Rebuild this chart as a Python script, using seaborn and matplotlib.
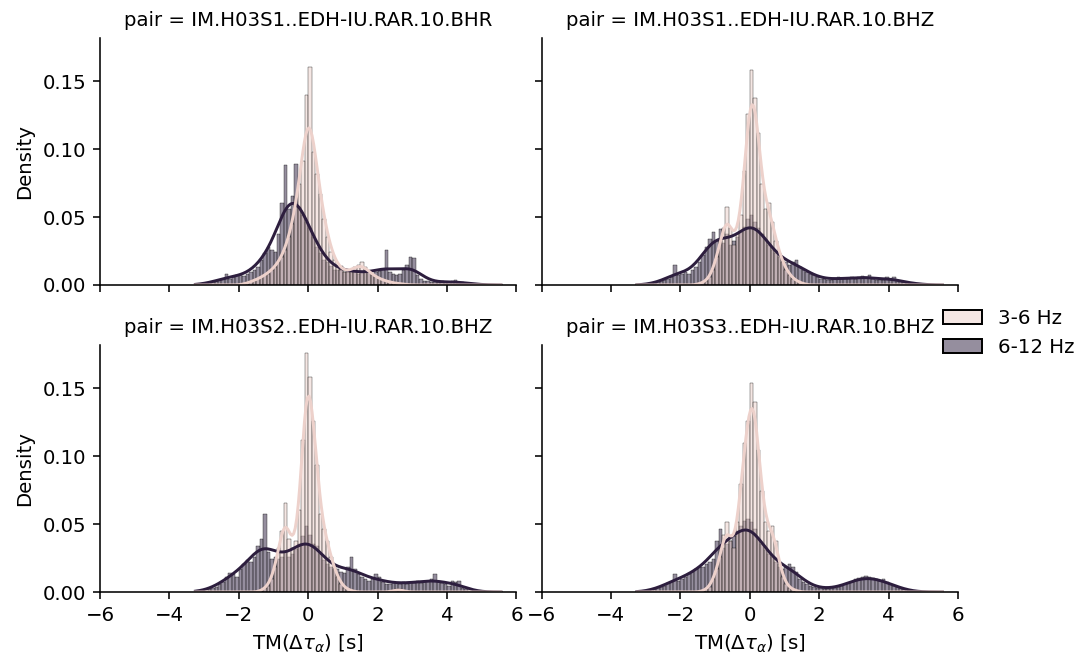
import numpy as np
import pandas as pd
import matplotlib
matplotlib.use("Agg")
import matplotlib.pyplot as plt
import seaborn as sns

# ---- categories ----
pairs = [
    "IM.H03S1..EDH-IU.RAR.10.BHR",
    "IM.H03S1..EDH-IU.RAR.10.BHZ",
    "IM.H03S2..EDH-IU.RAR.10.BHZ",
    "IM.H03S3..EDH-IU.RAR.10.BHZ",
]
bands = ["3-6 Hz", "6-12 Hz"]

# histogram bin edges (0.1 s bins from -3.3 to 5.6 s)
bin_edges = np.round(np.linspace(-3.3, 5.6, 90), 2)
bin_centers = np.round((bin_edges[:-1] + bin_edges[1:]) / 2, 3)

# ---- per-bin weights (density x 1000), bins from -3.25 s ----
s1_bhr_low = [
    0, 0, 0, 0, 0, 0, 0, 0, 0, 0,
    0, 0, 0, 0, 0, 2, 3, 3, 5, 6,
    8, 9, 12, 14, 18, 22, 28, 38, 48, 62,
    80, 98, 150, 172, 105, 88, 72, 52, 38, 26,
    20, 15, 12, 10, 10, 12, 14, 16, 18, 14,
    10, 8, 6, 5, 4, 3, 2, 2, 1, 1,
    1, 0, 0, 0, 0, 0, 0, 0, 0, 0,
    0, 0, 0, 0, 0, 0, 0, 0, 0, 0,
    0, 0, 0, 0, 0, 0, 0, 0, 0,
]
s1_bhr_high = [
    0, 0, 1, 1, 2, 2, 3, 4, 5, 9,
    5, 6, 8, 8, 7, 9, 10, 12, 14, 20,
    25, 30, 28, 26, 40, 65, 95, 60, 70, 96,
    62, 55, 50, 45, 38, 30, 25, 20, 18, 15,
    12, 12, 15, 10, 12, 10, 11, 9, 10, 11,
    10, 9, 10, 11, 12, 28, 10, 9, 8, 9,
    12, 16, 22, 21, 8, 5, 3, 3, 2, 2,
    2, 3, 2, 2, 3, 4, 2, 2, 1, 1,
    1, 1, 0, 0, 0, 0, 0, 0, 0,
]
s1_bhz_low = [
    0, 0, 0, 0, 0, 0, 0, 0, 0, 0,
    0, 0, 0, 0, 0, 0, 0, 0, 1, 2,
    3, 6, 12, 22, 35, 45, 62, 45, 32, 40,
    55, 90, 135, 170, 148, 120, 80, 60, 65, 50,
    35, 25, 18, 12, 8, 5, 3, 2, 1, 0,
    0, 0, 0, 0, 0, 0, 0, 0, 0, 0,
    0, 0, 0, 0, 0, 0, 0, 0, 0, 0,
    0, 0, 0, 0, 0, 0, 0, 0, 0, 0,
    0, 0, 0, 0, 0, 0, 0, 0, 0,
]
s1_bhz_high = [
    0, 0, 0, 0, 1, 2, 2, 3, 4, 5,
    6, 16, 8, 9, 10, 9, 12, 14, 18, 24,
    30, 36, 42, 35, 44, 33, 40, 32, 35, 38,
    42, 46, 52, 55, 50, 45, 40, 36, 32, 28,
    25, 22, 20, 18, 16, 18, 20, 14, 12, 10,
    9, 8, 6, 5, 5, 4, 4, 5, 6, 5,
    5, 5, 6, 5, 6, 7, 6, 8, 5, 4,
    4, 4, 6, 5, 6, 4, 3, 2, 2, 1,
    1, 1, 1, 0, 0, 0, 0, 0, 0,
]
s2_bhz_low = [
    0, 0, 0, 0, 0, 0, 0, 0, 0, 0,
    0, 0, 0, 0, 0, 0, 0, 0, 0, 1,
    3, 5, 10, 20, 35, 48, 70, 42, 35, 40,
    65, 120, 189, 170, 135, 100, 62, 50, 40, 28,
    18, 12, 6, 3, 2, 1, 0, 0, 0, 0,
    0, 0, 0, 0, 0, 0, 0, 1, 2, 2,
    1, 0, 0, 0, 0, 0, 0, 0, 0, 0,
    0, 0, 0, 0, 0, 0, 0, 0, 0, 0,
    0, 0, 0, 0, 0, 0, 0, 0, 0,
]
s2_bhz_high = [
    0, 0, 1, 1, 2, 3, 4, 6, 8, 12,
    15, 14, 12, 18, 22, 25, 24, 28, 36, 42,
    62, 32, 26, 28, 26, 28, 32, 28, 30, 34,
    38, 44, 52, 45, 38, 36, 30, 25, 22, 20,
    20, 18, 16, 15, 20, 28, 18, 14, 12, 10,
    9, 10, 14, 12, 8, 6, 6, 8, 7, 6,
    8, 6, 8, 7, 9, 7, 8, 9, 10, 14,
    8, 7, 6, 5, 9, 8, 9, 3, 2, 1,
    1, 0, 0, 0, 0, 0, 0, 0, 0,
]
s3_bhz_low = [
    0, 0, 0, 0, 0, 0, 0, 0, 0, 0,
    0, 0, 0, 0, 0, 0, 0, 0, 0, 1,
    2, 4, 10, 18, 28, 45, 55, 40, 35, 55,
    85, 118, 135, 165, 150, 112, 80, 55, 48, 52,
    40, 22, 12, 6, 3, 2, 1, 0, 0, 0,
    0, 0, 0, 0, 0, 0, 0, 0, 0, 0,
    0, 0, 0, 0, 0, 0, 0, 0, 0, 0,
    0, 0, 0, 0, 0, 0, 0, 0, 0, 0,
    0, 0, 0, 0, 0, 0, 0, 0, 0,
]
s3_bhz_high = [
    0, 0, 0, 1, 1, 2, 3, 4, 5, 7,
    8, 14, 9, 10, 12, 14, 16, 18, 20, 20,
    22, 24, 26, 40, 50, 35, 38, 40, 44, 48,
    52, 56, 58, 55, 50, 42, 38, 33, 30, 28,
    24, 20, 18, 20, 22, 20, 16, 10, 8, 6,
    5, 4, 3, 3, 2, 2, 3, 3, 4, 5,
    6, 7, 8, 10, 11, 12, 13, 12, 11, 10,
    9, 10, 8, 6, 5, 4, 3, 2, 1, 1,
    0, 0, 0, 0, 0, 0, 0, 0, 0,
]

series = [
    (pairs[0], bands[0], s1_bhr_low), (pairs[0], bands[1], s1_bhr_high),
    (pairs[1], bands[0], s1_bhz_low), (pairs[1], bands[1], s1_bhz_high),
    (pairs[2], bands[0], s2_bhz_low), (pairs[2], bands[1], s2_bhz_high),
    (pairs[3], bands[0], s3_bhz_low), (pairs[3], bands[1], s3_bhz_high),
]
frames = []
for pair, band, vals in series:
    frames.append(pd.DataFrame({"tm": bin_centers, "w": np.asarray(vals, float),
                                "band": band, "pair": pair}))
data = pd.concat(frames, ignore_index=True)

palette = sns.cubehelix_palette(2)

DPI = 142
g = sns.displot(
    data=data, x="tm", weights="w", hue="band", hue_order=bands,
    col="pair", col_order=pairs, col_wrap=2,
    stat="density", kde=True, bins=[float(b) for b in bin_edges],
    kde_kws={"bw_adjust": 0.42},
    palette=palette, height=2.0, aspect=1.5,
)
g.set_axis_labels(r"TM($\Delta\tau_\alpha$) [s]", "Density")
g.set(xlim=(-6, 6), xticks=[-6, -4, -2, 0, 2, 4, 6],
      ylim=(0, 0.182), yticks=[0.0, 0.05, 0.10, 0.15])
for ax in g.axes.flat:
    ax.yaxis.set_major_formatter(matplotlib.ticker.FormatStrFormatter("%.2f"))
g._legend.set_title("")

fig = g.figure
fig.set_size_inches(1092 / DPI, 657 / DPI)
fig.subplots_adjust(left=100 / 1092, right=958 / 1092,
                    bottom=1 - 592 / 657, top=1 - 38 / 657,
                    wspace=25 / 416, hspace=60 / 247)
g._legend.set_bbox_to_anchor((1.0, 0.493), transform=fig.transFigure)
fig.savefig("out.png", dpi=DPI)
